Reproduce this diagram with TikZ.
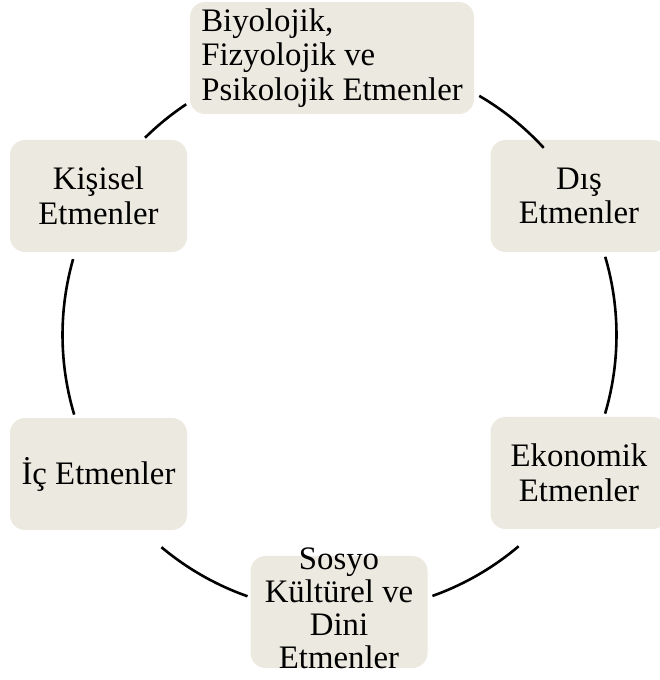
\documentclass[tikz,border=0pt]{standalone}
\usepackage{fontspec}
\setmainfont{Liberation Serif}
\definecolor{boxfill}{HTML}{ECEAE0}
\begin{document}
\begin{tikzpicture}[x=1pt,y=1pt,
  fbox/.style={fill=boxfill, draw=none, rounded corners=15pt, inner sep=0pt,
    minimum width=177pt, minimum height=112pt,
    font=\fontsize{32.8}{34.5}\selectfont, align=center},
  ring/.style={line width=2.6pt, black}]
\useasboundingbox (0,0) rectangle (660,680);
\begin{scope}
\clip (0,0) rectangle (660,680);
\node[fbox, minimum width=284pt, align=left] (top) at (332,622) {Biyolojik,\\Fizyolojik ve\\Psikolojik Etmenler};
\node[fbox] (kis) at (98.5,484) {Kişisel\\Etmenler};
\node[fbox] (dis) at (579,484) {Dış\\Etmenler};
\node[fbox] (ic) at (98.5,206) {İç Etmenler};
\node[fbox] (eko) at (579,207) {Ekonomik\\Etmenler};
\node[fbox] (sos) at (339,68) {};
\node[font=\fontsize{32.8}{33}\selectfont, align=center, inner sep=0pt] (sostext) at (339,72) {Sosyo\\Kültürel ve\\Dini\\Etmenler};
\end{scope}
\coordinate (C) at (339.5,345);
\draw[ring] (C) ++(134.6:277) arc[start angle=134.6, end angle=123.6, radius=277];
\draw[ring] (C) ++(59.7:277) arc[start angle=59.7, end angle=42.5, radius=277];
\draw[ring] (C) ++(16.4:277) arc[start angle=16.4, end angle=-16.5, radius=277];
\draw[ring] (C) ++(-49.7:277) arc[start angle=-49.7, end angle=-70.4, radius=277];
\draw[ring] (C) ++(-109.4:277) arc[start angle=-109.4, end angle=-130, radius=277];
\draw[ring] (C) ++(-163.3:277) arc[start angle=-163.3, end angle=-195.9, radius=277];
\end{tikzpicture}
\end{document}
